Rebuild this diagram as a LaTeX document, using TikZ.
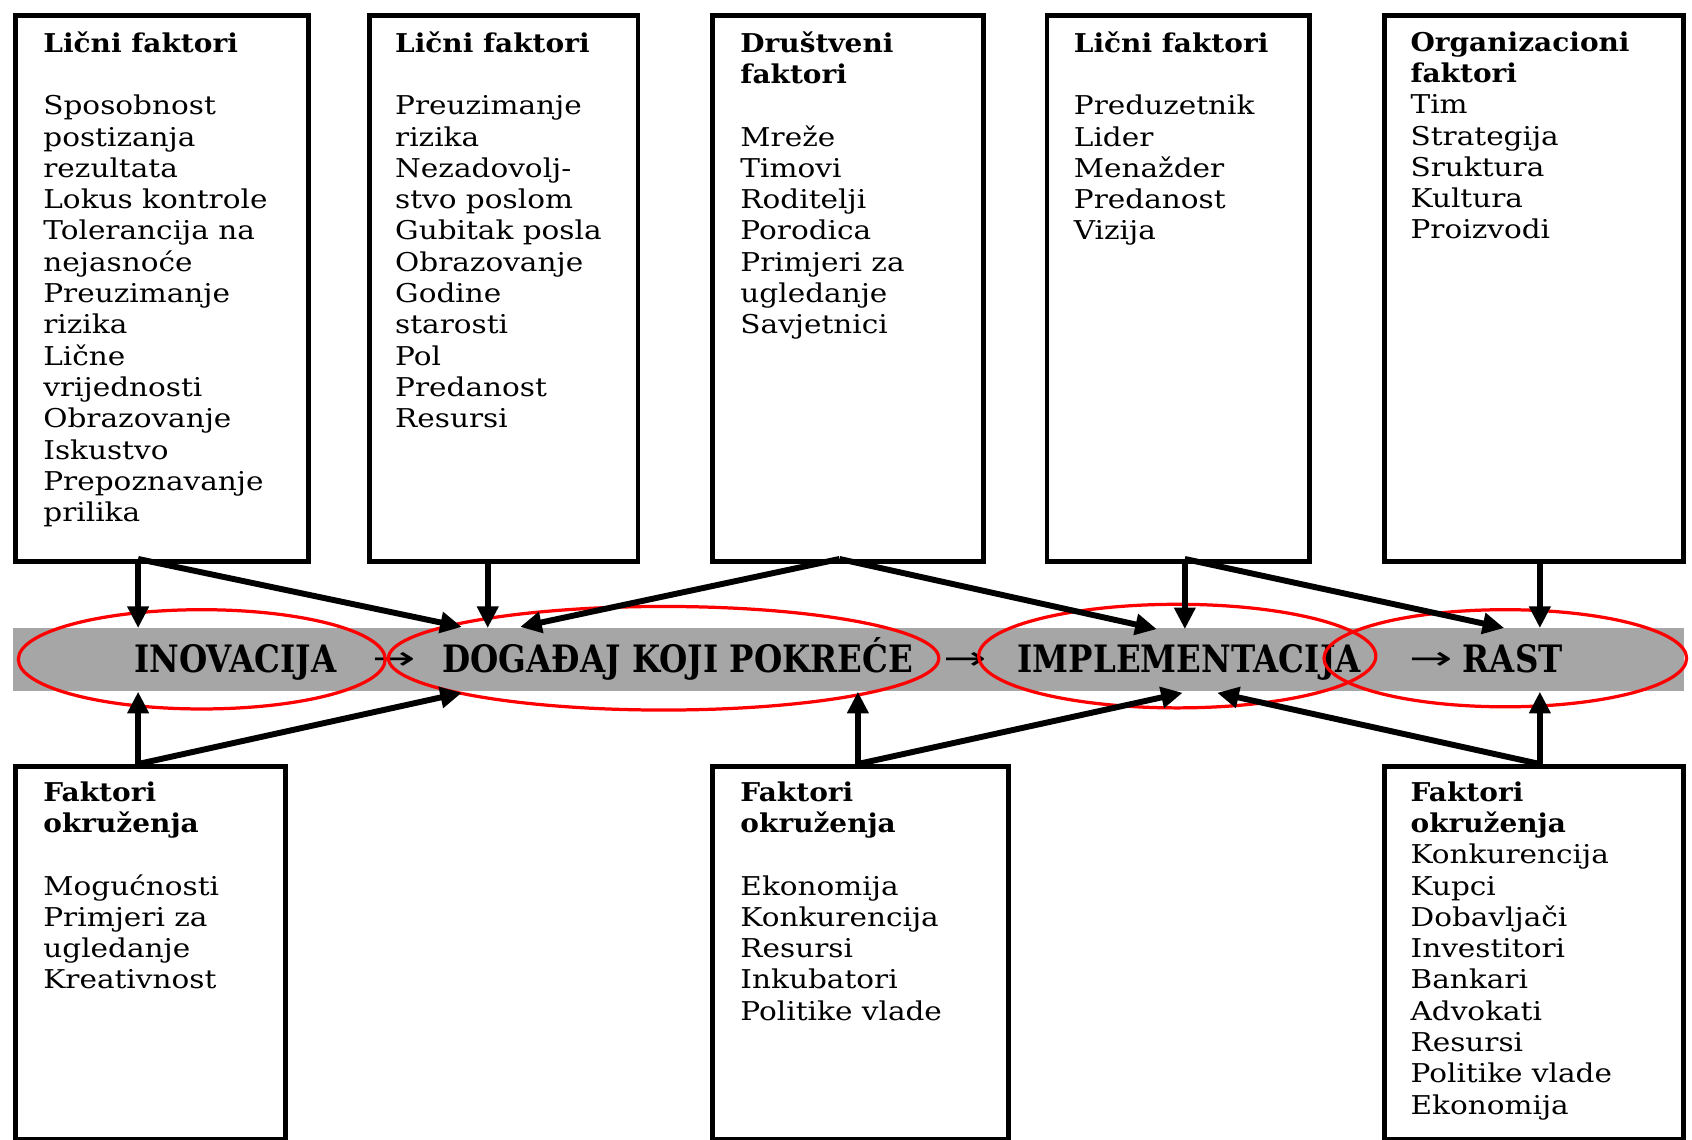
\documentclass[tikz,border=0pt]{standalone}
\usepackage{fontspec}
\usepackage{graphicx}
\setmainfont[FakeStretch=1.14,BoldFeatures={FakeStretch=1.08}]{DejaVu Serif}
\newfontfamily\bandfont[FakeStretch=0.86]{DejaVu Serif}
\newfontfamily\arrowfont{DejaVu Sans}
\usetikzlibrary{arrows.meta,shapes.geometric}
\definecolor{bandgray}{HTML}{A6A6A6}
\definecolor{ellred}{HTML}{FF0000}
\begin{document}
\begin{tikzpicture}[x=1pt,y=-1pt,
  box/.style={draw=black,line width=4.5pt,inner sep=0pt,anchor=north west},
  txt/.style={anchor=north west,inner sep=0pt,align=left,font=\fontsize{24}{29}\selectfont},
  bandbar/.style={fill=bandgray,inner sep=0pt,anchor=north west},
  bandtxt/.style={anchor=base,inner sep=0pt,font=\bandfont\bfseries\fontsize{35}{38}\selectfont},
  bandarr/.style={anchor=base,inner sep=0pt,font=\arrowfont\fontsize{30}{34}\selectfont},
  ell/.style={ellipse,draw=ellred,line width=3pt,inner sep=0pt},
  arr/.style={line width=5.5pt,-{Triangle[length=20pt,width=19pt]}}]
\useasboundingbox (0,0) rectangle (1568,1055.6);

% boxes
\node[box,minimum width=272pt,minimum height=506pt] (b1) at (12,12) {};
\node[box,minimum width=249pt,minimum height=506pt] (b2) at (340,12) {};
\node[box,minimum width=251pt,minimum height=506pt] (b3) at (658,12) {};
\node[box,minimum width=243pt,minimum height=506pt] (b4) at (968,12) {};
\node[box,minimum width=277pt,minimum height=506pt] (b5) at (1281,12) {};
\node[box,minimum width=250pt,minimum height=346pt] (bA) at (12,708) {};
\node[box,minimum width=274pt,minimum height=346pt] (bB) at (658,708) {};
\node[box,minimum width=277pt,minimum height=346pt] (bC) at (1281,708) {};

% box texts
\node[txt] (t1) at (40,29) {\textbf{Lični faktori}\\[29pt]Sposobnost\\postizanja\\rezultata\\Lokus kontrole\\Tolerancija na\\nejasnoće\\Preuzimanje\\rizika\\Lične\\vrijednosti\\Obrazovanje\\Iskustvo\\Prepoznavanje\\prilika};
\node[txt] (t2) at (366,29) {\textbf{Lični faktori}\\[29pt]Preuzimanje\\rizika\\Nezadovolj-\\stvo poslom\\Gubitak posla\\Obrazovanje\\Godine\\starosti\\Pol\\Predanost\\Resursi};
\node[txt] (t3) at (686,29) {\textbf{Društveni}\\\textbf{faktori}\\[29pt]Mreže\\Timovi\\Roditelji\\Porodica\\Primjeri za\\ugledanje\\Savjetnici};
\node[txt] (t4) at (995,29) {\textbf{Lični faktori}\\[29pt]Preduzetnik\\Lider\\Menažder\\Predanost\\Vizija};
\node[txt] (t5) at (1307,29) {\textbf{Organizacioni}\\\textbf{faktori}\\Tim\\Strategija\\Sruktura\\Kultura\\Proizvodi};
\node[txt] (tA) at (40,724) {\textbf{Faktori}\\\textbf{okruženja}\\[29pt]Mogućnosti\\Primjeri za\\ugledanje\\Kreativnost};
\node[txt] (tB) at (686,724) {\textbf{Faktori}\\\textbf{okruženja}\\[29pt]Ekonomija\\Konkurencija\\Resursi\\Inkubatori\\Politike vlade};
\node[txt] (tC) at (1307,724) {\textbf{Faktori}\\\textbf{okruženja}\\Konkurencija\\Kupci\\Dobavljači\\Investitori\\Bankari\\Advokati\\Resursi\\Politike vlade\\Ekonomija};

% band
\node[bandbar,minimum width=1548pt,minimum height=58pt] (band) at (12,582) {};
\node[bandtxt] (l1) at (218,623) {INOVACIJA};
\node[bandarr] (a1) at (365,620) {\scalebox{1.6}[1]{→}};
\node[bandtxt] (l2) at (628,623) {DOGAĐAJ KOJI POKREĆE};
\node[bandarr] (a2) at (894,620) {\scalebox{1.6}[1]{→}};
\node[bandtxt] (l3) at (1102,623) {IMPLEMENTACIJA};
\node[bandarr] (a3) at (1326,620) {\scalebox{1.6}[1]{→}};
\node[bandtxt] (l4) at (1402,623) {RAST};

% ellipses
\node[ell,minimum width=340pt,minimum height=92pt] (e1) at (187,611) {};
\node[ell,minimum width=510pt,minimum height=96pt] (e2) at (615,610) {};
\node[ell,minimum width=368pt,minimum height=96pt] (e3) at (1091,608) {};
\node[ell,minimum width=336pt,minimum height=90pt] (e4) at (1395,610) {};

% arrow end points
\coordinate (s1) at (128,518);
\coordinate (s2) at (452,518);
\coordinate (s3) at (778,518);
\coordinate (s4) at (1098,518);
\coordinate (s5) at (1427,518);
\coordinate (sA) at (128,708);
\coordinate (sB) at (795,708);
\coordinate (sC) at (1427,708);
\coordinate (d11) at (128,582);
\coordinate (d12) at (428,581);
\coordinate (d2) at (452,582);
\coordinate (d31) at (482,581);
\coordinate (d32) at (1072,583);
\coordinate (d4) at (1098,583);
\coordinate (d41) at (1394,582);
\coordinate (d5) at (1427,582);
\coordinate (dA1) at (128,641);
\coordinate (dA2) at (428,642);
\coordinate (dB1) at (795,641);
\coordinate (dB2) at (1096,642);
\coordinate (dC1) at (1427,641);
\coordinate (dC2) at (1128,642);

% arrows
\draw[arr] (s1) -- (d11);
\draw[arr] (s1) -- (d12);
\draw[arr] (s2) -- (d2);
\draw[arr] (s3) -- (d31);
\draw[arr] (s3) -- (d32);
\draw[arr] (s4) -- (d4);
\draw[arr] (s4) -- (d41);
\draw[arr] (s5) -- (d5);
\draw[arr] (sA) -- (dA1);
\draw[arr] (sA) -- (dA2);
\draw[arr] (sB) -- (dB1);
\draw[arr] (sB) -- (dB2);
\draw[arr] (sC) -- (dC1);
\draw[arr] (sC) -- (dC2);
\end{tikzpicture}
\end{document}
